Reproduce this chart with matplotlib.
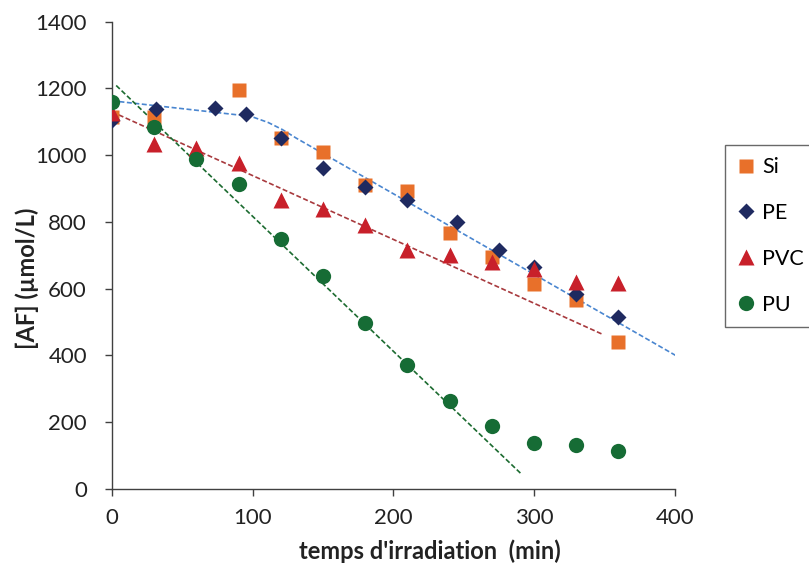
import numpy as np
import matplotlib
matplotlib.use("Agg")
import matplotlib.pyplot as plt

plt.rcParams['font.family'] = ['Lato', 'DejaVu Sans']

# ---- data ----
si_x = [0, 30, 90, 120, 150, 180, 210, 240, 270, 300, 330, 360]
si_y = [1115, 1115, 1196, 1050, 1008, 910, 892, 766, 695, 615, 566, 440]

pe_x = [0, 31, 73, 95, 120, 150, 180, 210, 245, 275, 300, 330, 360]
pe_y = [1105, 1138, 1140, 1123, 1050, 962, 905, 865, 800, 715, 665, 585, 514]

pvc_x = [0, 30, 60, 90, 120, 150, 180, 210, 240, 270, 300, 330, 360]
pvc_y = [1125, 1033, 1020, 975, 865, 840, 792, 715, 700, 680, 660, 620, 617]

pu_x = [0, 30, 60, 90, 120, 150, 180, 210, 240, 270, 300, 330, 360]
pu_y = [1160, 1083, 987, 915, 750, 637, 496, 370, 262, 189, 138, 131, 113]

# trend lines
pe_trend_x = [0, 91, 101, 111, 121, 131, 403]
pe_trend_y = [1163, 1120, 1113, 1098, 1077, 1051, 394]
pvc_trend = dict(slope=-1.913, intercept=1130, x0=0, x1=348)
pu_trend = dict(slope=-4.044, intercept=1221, x0=3, x1=291)

x_ticks = [0, 100, 200, 300, 400]
y_ticks = [0, 200, 400, 600, 800, 1000, 1200, 1400]

c_si = '#E8702A'
c_pe = '#1F2A60'
c_pvc = '#C8202A'
c_pu = '#166C35'

fig = plt.figure(figsize=(8.09, 5.67), dpi=100)
ax = fig.add_axes([0.1384, 0.138, 0.6956, 0.8237])

dash = (0, (3, 1.5))
# trend lines
ax.plot(pe_trend_x, pe_trend_y, ls=dash, color='#4A86D0', lw=1.2, zorder=2)
tx = np.array([pvc_trend['x0'], pvc_trend['x1']])
ax.plot(tx, pvc_trend['intercept'] + pvc_trend['slope'] * tx, ls=dash,
        color='#A83A3E', lw=1.2, zorder=2)
tx = np.array([pu_trend['x0'], pu_trend['x1']])
ax.plot(tx, pu_trend['intercept'] + pu_trend['slope'] * tx, ls=dash,
        color='#1C6B30', lw=1.2, zorder=2)

ax.plot(si_x, si_y, 's', color=c_si, ms=10.5, mec='none', label='Si', zorder=3)
ax.plot(pe_x, pe_y, 'D', color=c_pe, ms=8.5, mec='none', label='PE', zorder=4)
ax.plot(pvc_x, pvc_y, '^', color=c_pvc, ms=12, mec='none', label='PVC', zorder=5)
ax.plot(pu_x, pu_y, 'o', color=c_pu, ms=11, mec='none', label='PU', zorder=6)

ax.set_xlim(0, 400)
ax.set_ylim(0, 1400)
ax.set_xticks(x_ticks)
ax.set_yticks(y_ticks)
ax.tick_params(axis='both', direction='out', length=5, width=1.0, color='#404040',
               labelsize=16, labelcolor='#222222')
ax.tick_params(axis='x', pad=9)
ax.tick_params(axis='y', pad=13)
for s in ['top', 'right']:
    ax.spines[s].set_visible(False)
for s in ['left', 'bottom']:
    ax.spines[s].set_color('#404040')
    ax.spines[s].set_linewidth(1.0)
ax.spines['bottom'].set_bounds(0, 400)

ax.set_xlabel("temps d'irradiation  (min)", fontsize=17, fontweight='bold', color='#222222')
ax.xaxis.set_label_coords(0.565, -0.108)
ax.set_ylabel('[AF] (µmol/L)', fontsize=17, fontweight='bold', color='#222222')
ax.yaxis.set_label_coords(-0.130, 0.451)

leg = ax.legend(loc='upper left', bbox_to_anchor=(725 / 809, 1 - 145 / 567),
                bbox_transform=fig.transFigure, frameon=True, fancybox=False,
                edgecolor='#444444', fontsize=15.5, labelspacing=1.2,
                handlelength=0.8, handletextpad=0.35, borderpad=0.56, borderaxespad=0)
leg.get_frame().set_linewidth(1.0)

fig.savefig('out.png', dpi=100)
